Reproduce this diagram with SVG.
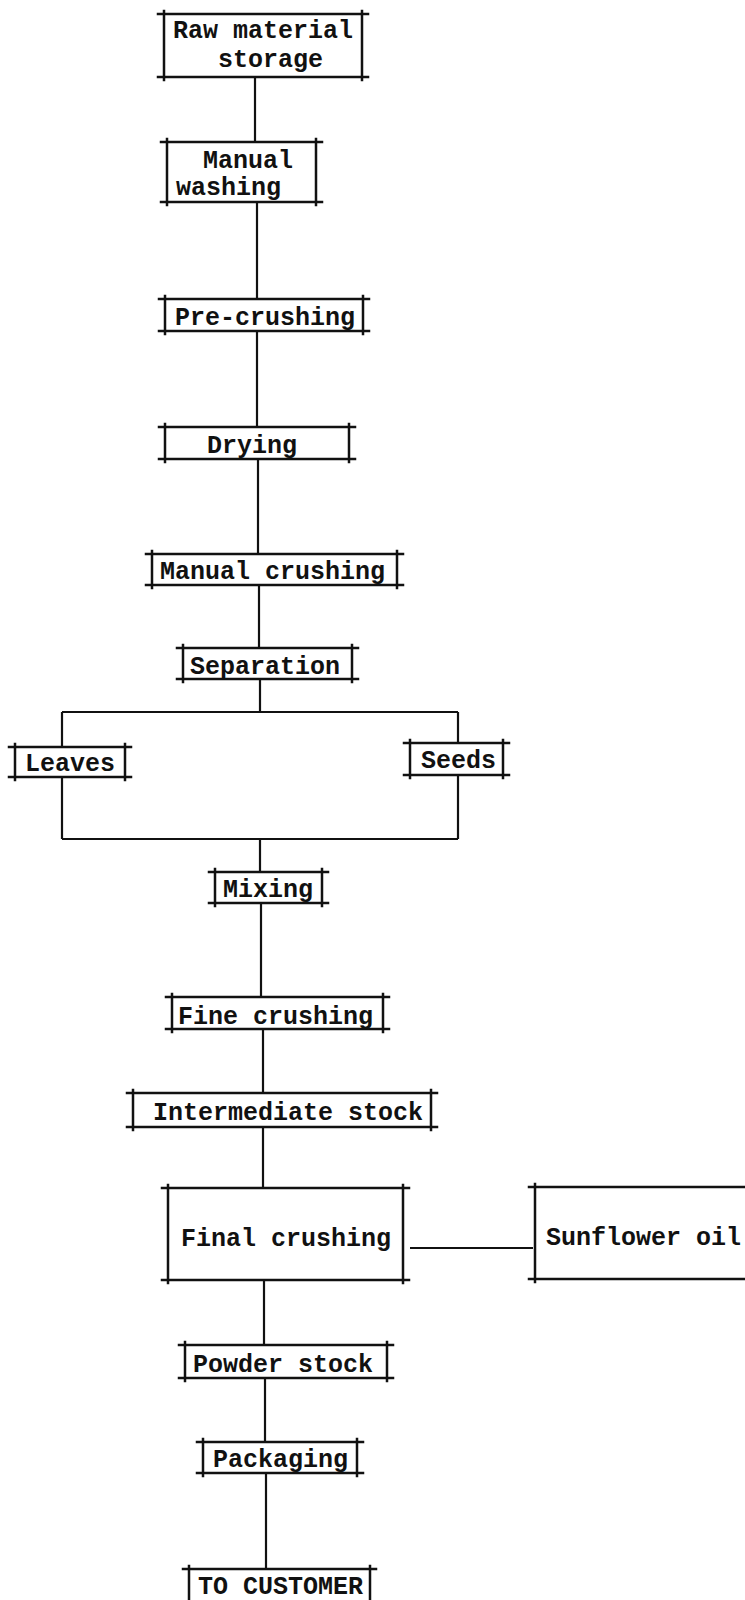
<svg xmlns="http://www.w3.org/2000/svg" width="745" height="1600" viewBox="0 0 745 1600">
  <style>
    .bx { fill: none; stroke: #111; stroke-width: 2.5; stroke-linecap: square; }
    .ln { fill: none; stroke: #111; stroke-width: 2.2; }
    text { font-family: "Liberation Mono", "Courier New", monospace; font-size: 25px; font-weight: bold; fill: #111; }
  </style>
  <rect width="745" height="1600" fill="#fff"/>

  <!-- flow lines -->
  <g id="connectors" class="ln">
    <path d="M255 77 V142"/>
    <path d="M257 202 V299"/>
    <path d="M257 331 V427"/>
    <path d="M258 459 V554"/>
    <path d="M259 585 V648"/>
    <path d="M260 679 V712"/>
    <path d="M62 712 H458"/>
    <path d="M62 712 V747"/>
    <path d="M458 712 V743"/>
    <path d="M62 777 V839"/>
    <path d="M458 775 V839"/>
    <path d="M62 839 H458"/>
    <path d="M260 839 V872"/>
    <path d="M261 903 V997"/>
    <path d="M263 1029 V1093"/>
    <path d="M263 1127 V1188"/>
    <path d="M410 1248 H533"/>
    <path d="M264 1280 V1345"/>
    <path d="M265 1378 V1442"/>
    <path d="M266 1473 V1569"/>
  </g>

  <!-- process steps: bracket-style boxes (rules overhang the sides) -->
  <g id="raw-material-storage">
    <path class="bx" d="M158 14 H368 M158 77 H368 M164 11 V80 M362 11 V80"/>
    <text x="173" y="38">Raw material</text>
    <text x="218" y="67">storage</text>
  </g>
  <g id="manual-washing">
    <path class="bx" d="M161 142 H322 M161 202 H322 M167 139 V205 M316 139 V205"/>
    <text x="203" y="168">Manual</text>
    <text x="176" y="195">washing</text>
  </g>
  <g id="pre-crushing">
    <path class="bx" d="M159 299 H369 M159 331 H369 M165 296 V334 M363 296 V334"/>
    <text x="175" y="325">Pre-crushing</text>
  </g>
  <g id="drying">
    <path class="bx" d="M159 427 H355 M159 459 H355 M165 424 V462 M349 424 V462"/>
    <text x="207" y="453">Drying</text>
  </g>
  <g id="manual-crushing">
    <path class="bx" d="M146 554 H403 M146 585 H403 M152 551 V588 M397 551 V588"/>
    <text x="160" y="579">Manual crushing</text>
  </g>
  <g id="separation">
    <path class="bx" d="M177 648 H358 M177 679 H358 M183 645 V682 M352 645 V682"/>
    <text x="190" y="674">Separation</text>
  </g>
  <g id="leaves">
    <path class="bx" d="M9 747 H131 M9 777 H131 M15 744 V780 M125 744 V780"/>
    <text x="25" y="771">Leaves</text>
  </g>
  <g id="seeds">
    <path class="bx" d="M404 743 H509 M404 775 H509 M410 740 V778 M503 740 V778"/>
    <text x="421" y="768">Seeds</text>
  </g>
  <g id="mixing">
    <path class="bx" d="M209 872 H328 M209 903 H328 M215 869 V906 M322 869 V906"/>
    <text x="223" y="897">Mixing</text>
  </g>
  <g id="fine-crushing">
    <path class="bx" d="M166 997 H389 M166 1029 H389 M172 994 V1032 M383 994 V1032"/>
    <text x="178" y="1024">Fine crushing</text>
  </g>
  <g id="intermediate-stock">
    <path class="bx" d="M127 1093 H437 M127 1127 H437 M133 1090 V1130 M431 1090 V1130"/>
    <text x="153" y="1120">Intermediate stock</text>
  </g>
  <g id="final-crushing">
    <path class="bx" d="M162 1188 H409 M162 1280 H409 M168 1185 V1283 M403 1185 V1283"/>
    <text x="181" y="1246">Final crushing</text>
  </g>
  <g id="sunflower-oil">
    <path class="bx" d="M529 1187 H760 M529 1279 H760 M535 1184 V1282"/>
    <text x="546" y="1245">Sunflower oil</text>
  </g>
  <g id="powder-stock">
    <path class="bx" d="M179 1345 H393 M179 1378 H393 M185 1342 V1381 M387 1342 V1381"/>
    <text x="193" y="1372">Powder stock</text>
  </g>
  <g id="packaging">
    <path class="bx" d="M197 1442 H363 M197 1473 H363 M203 1439 V1476 M357 1439 V1476"/>
    <text x="213" y="1467">Packaging</text>
  </g>
  <g id="to-customer">
    <path class="bx" d="M183 1569 H376 M189 1566 V1610 M370 1566 V1610"/>
    <text x="198" y="1594">TO CUSTOMER</text>
  </g>
</svg>
